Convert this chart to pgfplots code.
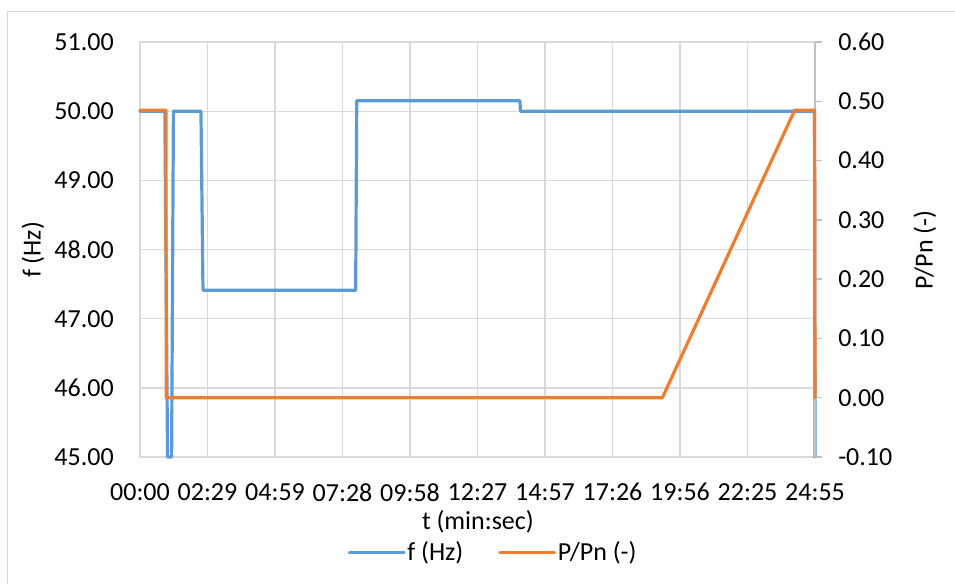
\documentclass[border=0pt]{standalone}
\usepackage{pgfplots}
\pgfplotsset{compat=1.18}
\usepackage{fontspec}
\setmainfont{Carlito}
\definecolor{fblue}{HTML}{5B9BD5}
\definecolor{porange}{HTML}{ED7D31}
\definecolor{gridc}{HTML}{D9D9D9}
\definecolor{axc}{HTML}{BFBFBF}

\begin{document}
\fontsize{19.5}{24}\selectfont
\begin{tikzpicture}
\useasboundingbox (0pt,0pt) rectangle (716.25pt,-437.25pt);
\draw[gridc, line width=1.2pt] (5.5pt,-8.5pt) rectangle (730pt,-450pt);
\begin{axis}[
  at={(105pt,-342.75pt)}, anchor=south west, scale only axis,
  width=506.25pt, height=311.25pt,
  xmin=0, xmax=1495, ymin=45, ymax=51,
  clip=false,
  xtick={0,149.5,299,448.5,598,747.5,897,1046.5,1196,1345.5,1495},
  xticklabels={00:00,02:29,04:59,07:28,09:58,12:27,14:57,17:26,19:56,22:25,24:55},
  ytick={45,46,47,48,49,50,51},
  xtick pos=bottom, ytick pos=left,
  major tick length=0pt,
  grid=major,
  major grid style={draw=gridc, line width=1pt},
  axis line style={draw=gridc, line width=1pt},
  every outer x axis line/.append style={draw=axc},
  yticklabel style={anchor=east, inner sep=0pt, xshift=-19.5pt,
    /pgf/number format/.cd, fixed, fixed zerofill, precision=2, assume math mode=true},
  xticklabel style={anchor=north, inner sep=0pt, yshift=-19.5pt},
  xlabel={t (min:sec)},
  xlabel style={at={(axis description cs:0.5006,-0.157)}, anchor=center},
  ylabel={f (Hz)},
  ylabel style={at={(axis description cs:-0.1585,0.499)}, anchor=center},
]
\addplot[fblue, line width=2.4pt, line join=round, line cap=round] coordinates {
  (0,50.0) (55,50.0) (61,45.0) (70,45.0) (74,50.0) (135,50.0) (139.5,47.41)
  (477.7,47.41) (480,50.15) (841.6,50.15) (842.5,50.0) (1494,50.0) (1495,45.0)
};
\end{axis}
\begin{axis}[
  at={(105pt,-342.75pt)}, anchor=south west, scale only axis,
  width=506.25pt, height=311.25pt,
  xmin=0, xmax=1495, ymin=-0.1, ymax=0.6,
  clip=false,
  axis x line=none,
  axis y line*=right,
  axis line style={draw=axc, line width=1pt, -},
  ytick={-0.1,0,0.1,0.2,0.3,0.4,0.5,0.6},
  tick align=outside, major tick length=5pt,
  ytick style={draw=axc, line width=1pt},
  yticklabel style={anchor=west, inner sep=0pt, xshift=12.25pt,
    /pgf/number format/.cd, fixed, fixed zerofill, precision=2, assume math mode=true},
  ylabel={P/Pn (-)},
  ylabel style={at={(axis description cs:1.163,0.499)}, anchor=center, rotate=0},
  legend style={at={(0.523,-0.231)}, anchor=center, draw=none, fill=none,
    legend columns=2, cells={anchor=west}, nodes={inner sep=1.2pt},
    /tikz/every even column/.append style={column sep=25pt}},
  legend image code/.code={\draw[#1] (0pt,0pt) -- (41pt,0pt);},
]
\addlegendimage{fblue, line width=2.4pt, line cap=round}
\addlegendentry{f (Hz)}
\addplot[porange, line width=2.4pt, line join=round, line cap=round] coordinates {
  (0,0.485) (57.6,0.485) (58,0) (1157,0) (1450,0.485) (1494,0.485) (1495,0)
};
\addlegendentry{P/Pn (-)}
\end{axis}
\end{tikzpicture}
\end{document}
